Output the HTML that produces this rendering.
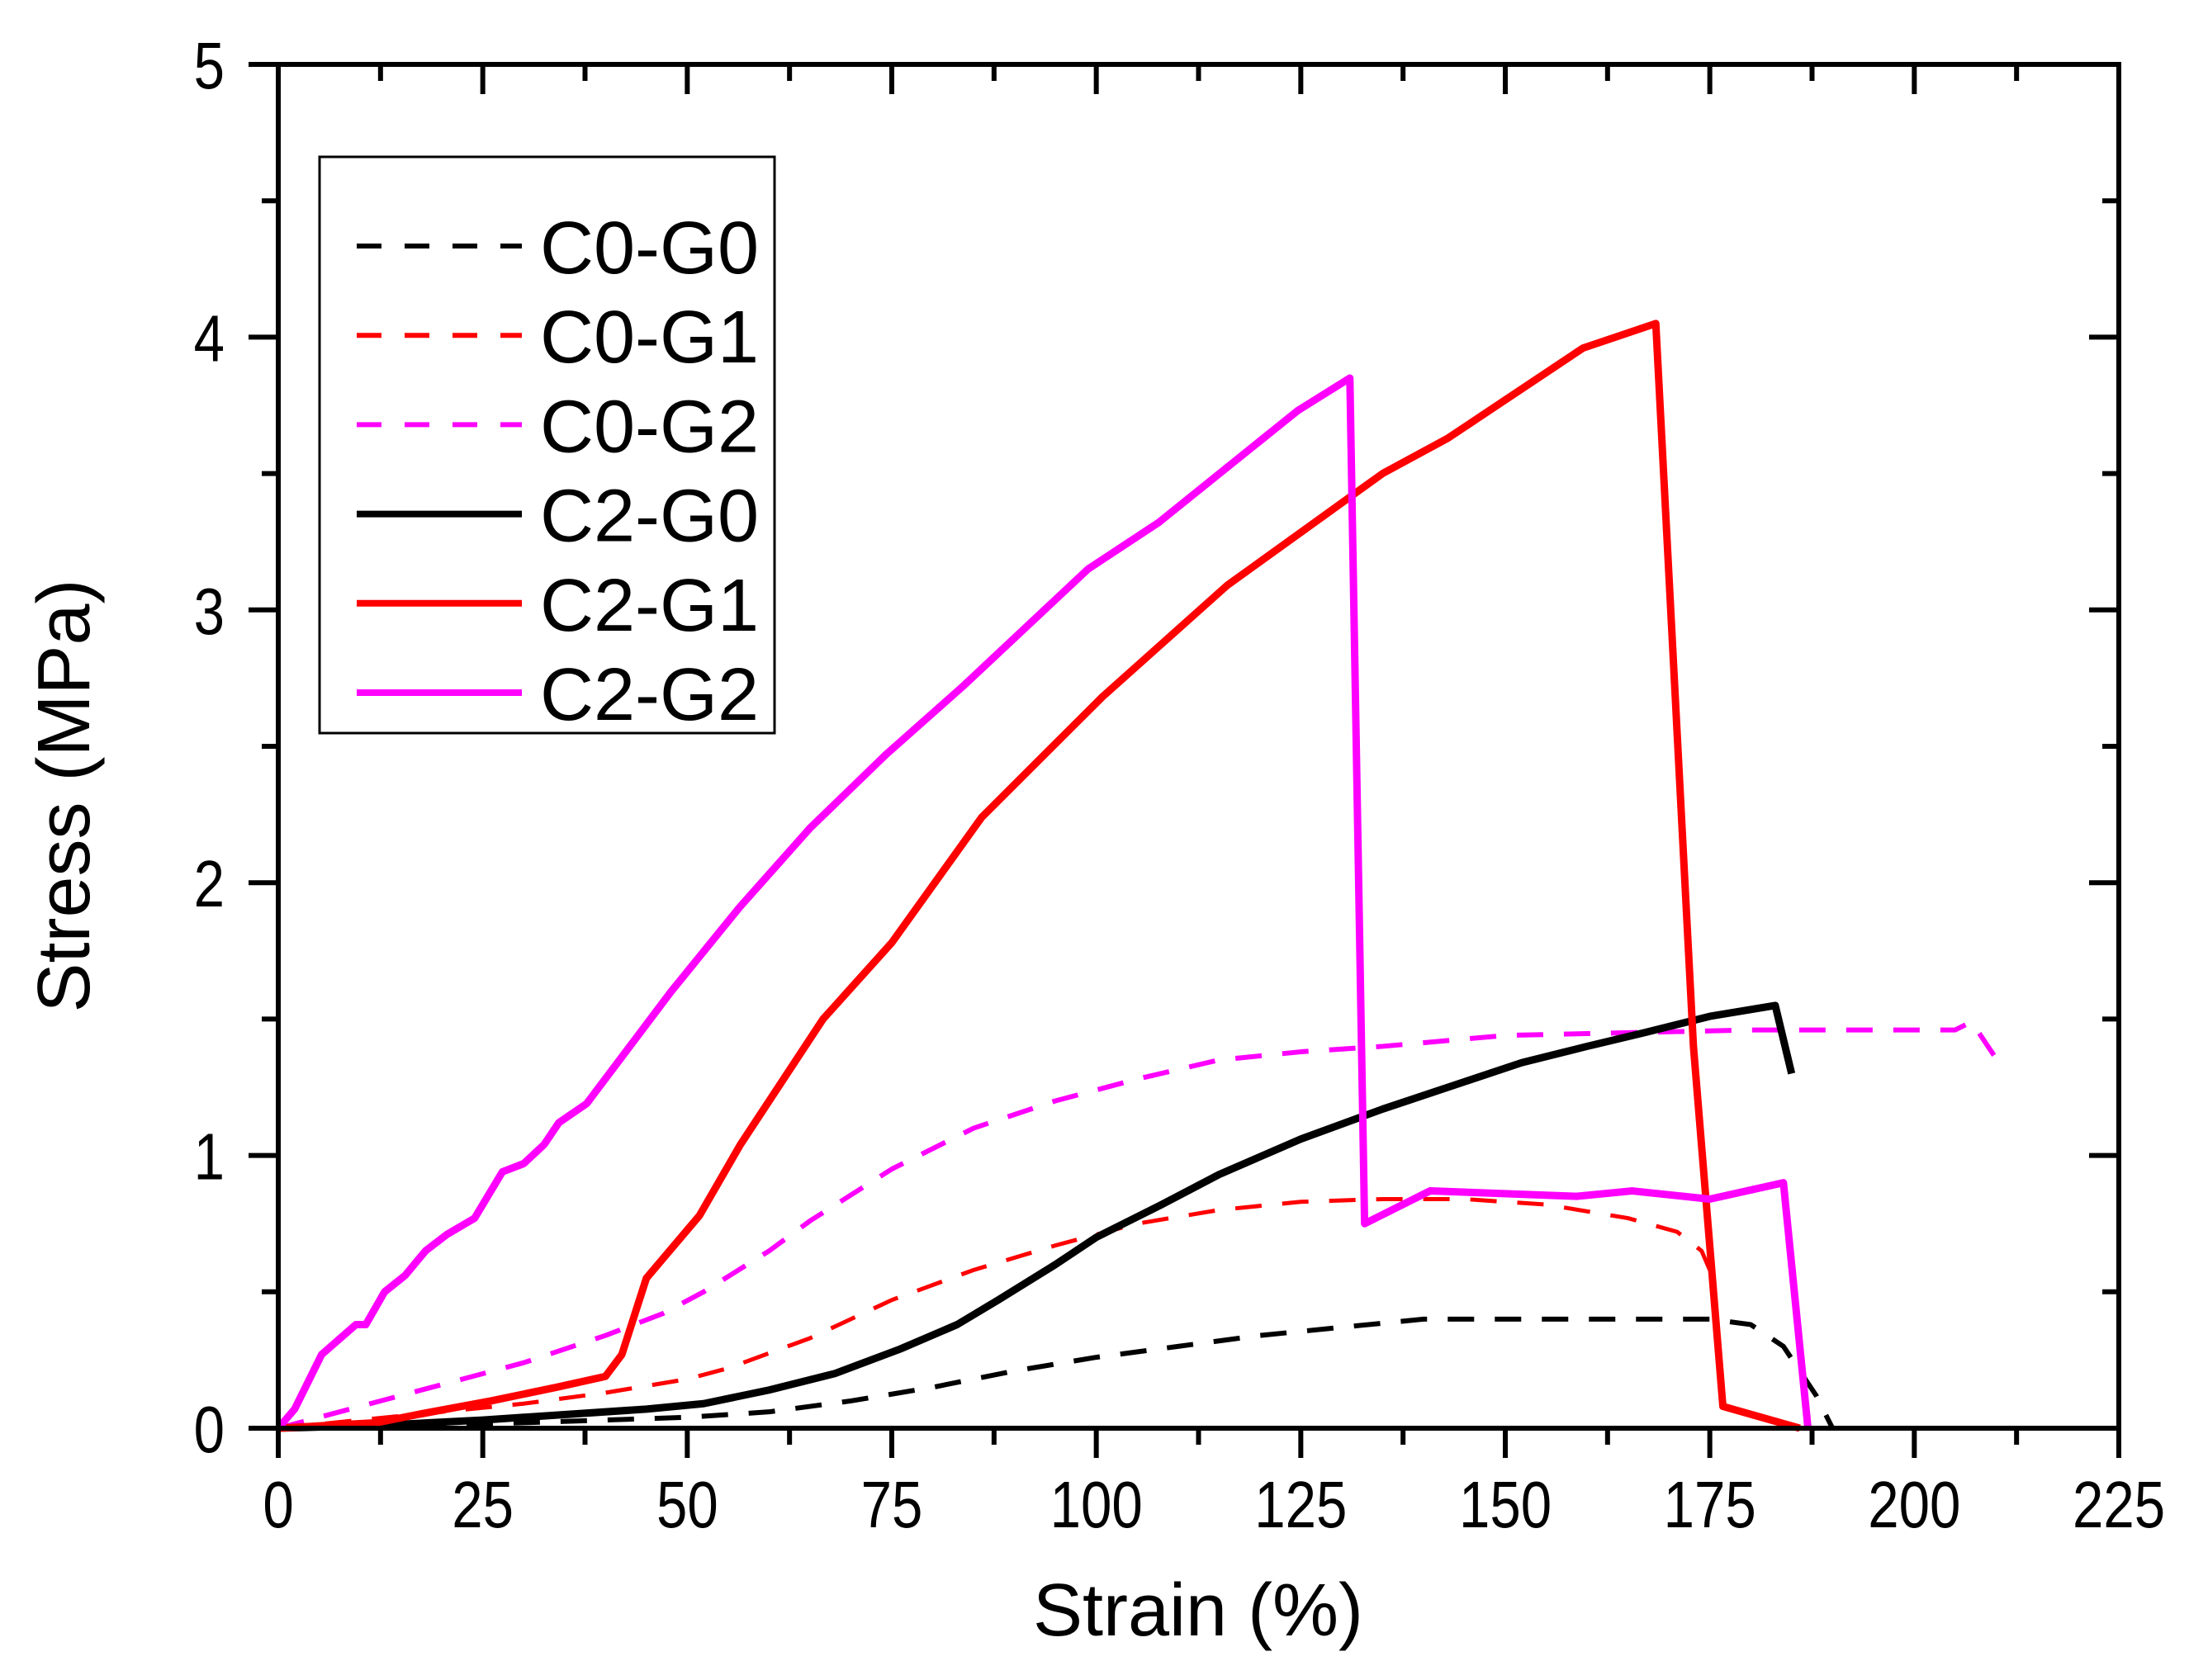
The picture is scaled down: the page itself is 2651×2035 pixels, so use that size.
<!DOCTYPE html>
<html><head><meta charset="utf-8"><style>
html,body{margin:0;padding:0;background:#fff}
svg{display:block}
text{font-family:"Liberation Sans",Arial,sans-serif;fill:#000}
</style></head><body>
<svg id="chart" width="2651" height="2035" viewBox="0 0 2651 2035" xmlns="http://www.w3.org/2000/svg">
<g id="series"></g>
<g id="axes"></g>
<g id="legend"></g>
</svg>
<script>
const xTicks = [0,25,50,75,100,125,150,175,200,225];
const yTicks = [0,1,2,3,4,5];
const seriesNames = ["C0-G0","C0-G1","C0-G2","C2-G0","C2-G1","C2-G2"];
const c0g0X = [0,20,30,40,50,60,70,80,90,100,110,120,130,140,160,175,180,184,188,190];
const c0g0Y = [0,0.01,0.02,0.03,0.04,0.06,0.1,0.15,0.21,0.26,0.3,0.34,0.37,0.4,0.4,0.4,0.38,0.3,0.12,0];
const c0g1X = [0,10,20,30,40,50,55,65,75,85,95,105,115,125,135,145,155,165,171,174,175];
const c0g1Y = [0,0.03,0.06,0.09,0.13,0.18,0.22,0.33,0.47,0.58,0.67,0.75,0.8,0.83,0.84,0.84,0.82,0.77,0.72,0.65,0.58];
const c0g2X = [0,10,20,30,40,47,52,60,65,75,85,95,105,115,125,135,150,165,180,195,205,207,211];
const c0g2Y = [0,0.08,0.16,0.24,0.34,0.42,0.5,0.65,0.76,0.95,1.1,1.2,1.28,1.35,1.38,1.4,1.44,1.45,1.46,1.46,1.46,1.49,1.31];
const c2g0X = [0,12,25,35,45,52,60,68,76,83,88,95,100,108,115,125,135,145,152,160,167,175,183,185];
const c2g0Y = [0,0.01,0.03,0.05,0.07,0.09,0.14,0.2,0.29,0.38,0.47,0.6,0.7,0.82,0.93,1.06,1.17,1.27,1.34,1.4,1.45,1.51,1.55,1.3];
const c2g1X = [0,12,17,26,34,40,42,45,51.5,56.5,66.6,75,86,100.7,116,135,143,159.5,168.4,173,176.6,186];
const c2g1Y = [0,0.02,0.05,0.1,0.15,0.19,0.27,0.55,0.78,1.04,1.5,1.78,2.24,2.68,3.09,3.5,3.63,3.96,4.05,1.4,0.08,0];
const c2g2X = [0,2,5.3,9.5,10.7,13,15.5,18,20.6,24,27.4,30,32.5,34.3,37.7,48,56.4,65,74.3,83.7,99,107.6,124.6,131,132.8,140.8,158.7,165.5,175,184,187];
const c2g2Y = [0,0.07,0.27,0.38,0.38,0.5,0.56,0.65,0.71,0.77,0.94,0.97,1.04,1.12,1.19,1.6,1.91,2.2,2.47,2.72,3.15,3.32,3.73,3.85,0.75,0.87,0.85,0.87,0.84,0.9,0];

const L=337,R=2566,T=78,B=1730;
const sx=v=>L+(v-0)/(225-0)*(R-L);
const sy=v=>B-(v-0)/(5-0)*(B-T);
const NS="http://www.w3.org/2000/svg";
function mk(tag,parent){const e=document.createElementNS(NS,tag);parent.appendChild(e);return e;}

const seriesG=document.getElementById('series');
const styles=[["#000",6,"32 25"],["#ff0000",5,"32 25"],["#ff00ff",6,"32 25"],["#000",9,""],["#ff0000",9,""],["#ff00ff",9,""]];
const xs=[c0g0X,c0g1X,c0g2X,c2g0X,c2g1X,c2g2X], ys=[c0g0Y,c0g1Y,c0g2Y,c2g0Y,c2g1Y,c2g2Y];
for(let i=0;i<6;i++){
  const p=mk('polyline',seriesG);
  p.setAttribute('points',xs[i].map((x,j)=>sx(x)+','+sy(ys[i][j])).join(' '));
  p.setAttribute('fill','none');p.setAttribute('stroke',styles[i][0]);p.setAttribute('stroke-width',styles[i][1]);
  p.setAttribute('stroke-linejoin','round');
  if(styles[i][2])p.setAttribute('stroke-dasharray',styles[i][2]);
  
  
}

const ax=document.getElementById('axes');
const frame=mk('rect',ax);
frame.setAttribute('x',L);frame.setAttribute('y',T);frame.setAttribute('width',R-L);frame.setAttribute('height',B-T);
frame.setAttribute('fill','none');frame.setAttribute('stroke','#000');frame.setAttribute('stroke-width',6);


function ln(x1,y1,x2,y2,name){const l=mk('line',ax);l.setAttribute('x1',x1);l.setAttribute('y1',y1);l.setAttribute('x2',x2);l.setAttribute('y2',y2);l.setAttribute('stroke','#000');l.setAttribute('stroke-width',6);
  
  }
for(let i=0;i<xTicks.length;i++){
  const x=sx(xTicks[i]);
  ln(x,B,x,B+36,'x-tick');ln(x,T,x,T+36,'x-tick-top');
  if(i<xTicks.length-1){const m=sx((xTicks[i]+xTicks[i+1])/2);ln(m,B,m,B+20,'x-minor-tick');ln(m,T,m,T+20,'x-minor-tick-top');}
  const t=mk('text',ax);t.setAttribute('transform','translate('+x+',1850) scale(0.84,1)');t.setAttribute('text-anchor','middle');t.setAttribute('font-size',80);t.textContent=xTicks[i];
  
  
}
for(let i=0;i<yTicks.length;i++){
  const y=sy(yTicks[i]);
  ln(L-36,y,L,y,'y-tick');ln(R-36,y,R,y,'y-tick-right');
  if(i<yTicks.length-1){const m=sy((yTicks[i]+yTicks[i+1])/2);ln(L-20,m,L,m,'y-minor-tick');ln(R-20,m,R,m,'y-minor-tick-right');}
  const t=mk('text',ax);t.setAttribute('transform','translate(272,'+(y+29)+') scale(0.84,1)');t.setAttribute('text-anchor','end');t.setAttribute('font-size',80);t.textContent=yTicks[i];
  
  
}
const xt=mk('text',ax);xt.setAttribute('x',1451);xt.setAttribute('y',1981);xt.setAttribute('text-anchor','middle');xt.setAttribute('font-size',90);xt.textContent='Strain (%)';


const yt=mk('text',ax);yt.setAttribute('transform','translate(108,964) rotate(-90)');yt.setAttribute('text-anchor','middle');yt.setAttribute('font-size',90);yt.textContent='Stress (MPa)';



const lg=document.getElementById('legend');
const box=mk('rect',lg);
box.setAttribute('x',387);box.setAttribute('y',190);box.setAttribute('width',551);box.setAttribute('height',698);
box.setAttribute('fill','#fff');box.setAttribute('stroke','#000');box.setAttribute('stroke-width',3);


for(let i=0;i<6;i++){
  const y=298+i*108.2;
  const l=mk('line',lg);l.setAttribute('x1',432);l.setAttribute('x2',632);l.setAttribute('y1',y);l.setAttribute('y2',y);
  l.setAttribute('stroke',styles[i][0]);l.setAttribute('stroke-width',i<3?6:8);
  if(styles[i][2])l.setAttribute('stroke-dasharray','30 28');
  
  
  const t=mk('text',lg);t.setAttribute('x',654);t.setAttribute('y',y+33);t.setAttribute('font-size',90);t.textContent=seriesNames[i];
  
  
}
</script>
</body></html>
